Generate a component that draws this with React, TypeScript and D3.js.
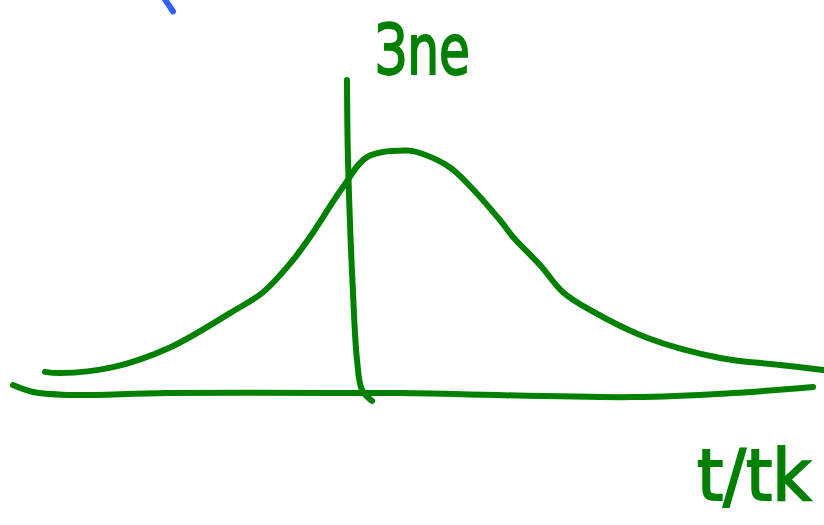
import React from "react";
import * as d3 from "d3";

// Bell-shaped response versus normalised time t/tk
const curveT = [-1.51, -1.435, -1.17, -0.885, -0.585, -0.42, -0.27, -0.185, -0.02, 0.1, 0.3, 0.365, 0.515, 0.6, 0.765, 0.83, 0.965, 1.08, 1.215, 1.5, 1.865, 2.165, 2.38];
const curveY = [0.088, 0.083, 0.108, 0.19, 0.333, 0.42, 0.554, 0.65, 0.858, 0.983, 1.01, 1.0, 0.94, 0.875, 0.72, 0.65, 0.533, 0.42, 0.346, 0.23, 0.146, 0.117, 0.096];

// Hand-drawn horizontal axis
const axisT = [-1.67, -1.57, -1.4, -0.9, -0.07, 0.265, 1.43, 1.93, 2.33];
const axisY = [0.033, 0.004, -0.008, 0, 0, 0, -0.017, 0, 0.025];

// Hand-drawn vertical axis
const vAxisT = [0, 0.005, 0.03, 0.05, 0.075, 0.125];
const vAxisY = [1.304, 0.97, 0.417, 0.138, 0.013, -0.033];

// Stray stroke at the top
const strayT = [-0.91, -0.87];
const strayY = [1.64, 1.59];

const yLabel = "Зne";
const xLabel = "t/tk";

const W = 824;
const H = 525;
const GREEN = "#008000";

export default function App() {
  const x = d3.scaleLinear().domain([0, 1]).range([347, 547]);
  const y = d3.scaleLinear().domain([0, 1]).range([393, 153]);

  const line = d3
    .line<[number, number]>()
    .x((d) => x(d[0]))
    .y((d) => y(d[1]))
    .curve(d3.curveCatmullRom.alpha(0.5));

  const zip = (a: number[], b: number[]) => a.map((v, i) => [v, b[i]] as [number, number]);

  return (
    <svg
      width={W}
      height={H}
      style={{ position: "absolute", left: 0, top: 0, background: "#fff" }}
    >
      <g fill="none" stroke={GREEN} strokeWidth={6} strokeLinecap="round" strokeLinejoin="round">
        <path d={line(zip(axisT, axisY)) || ""} />
        <path d={line(zip(vAxisT, vAxisY)) || ""} />
        <path d={line(zip(curveT, curveY)) || ""} />
      </g>
      <path
        d={line(zip(strayT, strayY)) || ""}
        fill="none"
        stroke="#3060f0"
        strokeWidth={6}
        strokeLinecap="round"
      />
      <text
        x={x(0.14)}
        y={y(1.33)}
        fill={GREEN}
        stroke={GREEN}
        strokeWidth={2}
        fontFamily="DejaVu Sans"
        fontSize={70}
        textLength={95}
        lengthAdjust="spacingAndGlyphs"
      >
        {yLabel}
      </text>
      <text
        x={x(1.75)}
        y={y(-0.445)}
        fill={GREEN}
        stroke={GREEN}
        strokeWidth={2}
        fontFamily="DejaVu Sans"
        fontSize={72}
        textLength={114}
        lengthAdjust="spacingAndGlyphs"
      >
        {xLabel}
      </text>
    </svg>
  );
}
